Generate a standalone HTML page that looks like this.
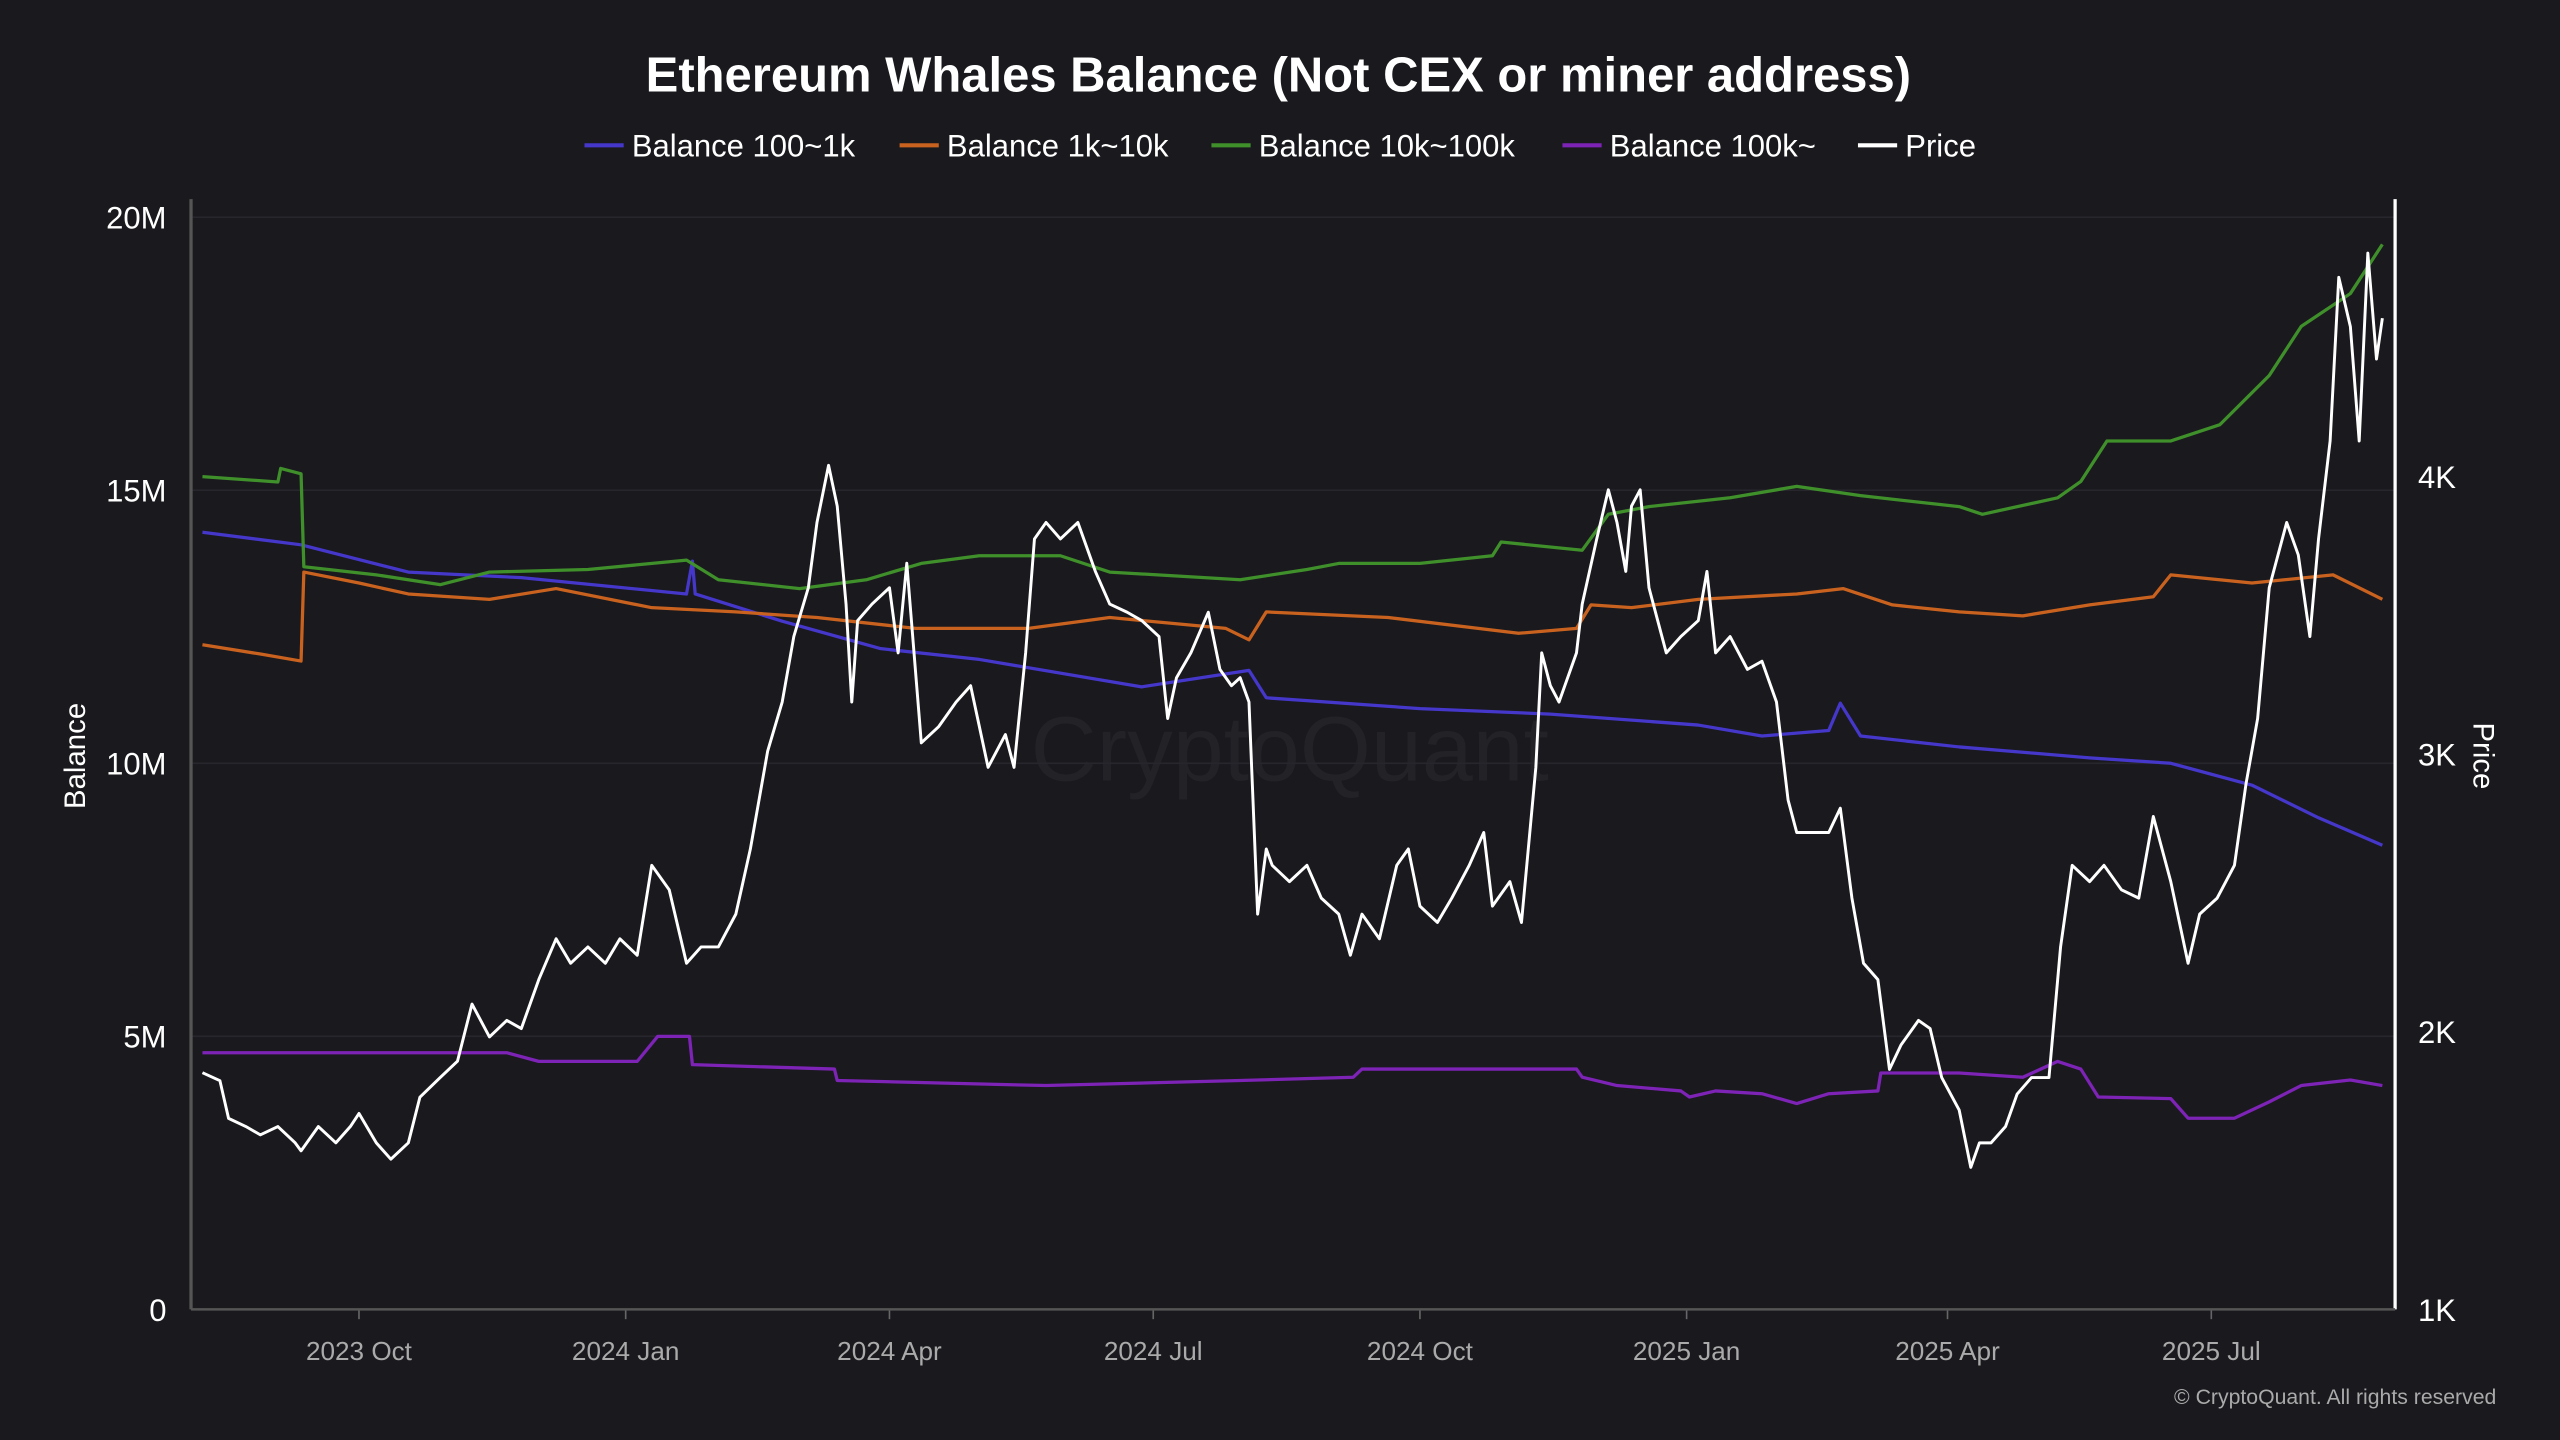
<!DOCTYPE html>
<html><head><meta charset="utf-8"><style>
html,body{margin:0;padding:0;background:#19191e;}
svg{display:block;font-family:"Liberation Sans",sans-serif;}
</style></head><body>
<svg id="chart" width="2560" height="1440" viewBox="0 0 1568 882" xmlns="http://www.w3.org/2000/svg">
<rect x="0" y="0" width="1568" height="882" fill="#19191e"/>
<text x="783" y="56" text-anchor="middle" font-size="30" font-weight="bold" fill="#fff">Ethereum Whales Balance (Not CEX or miner address)</text>
<g id="legend" font-size="19" fill="#fff"></g>
<text x="790" y="478" text-anchor="middle" font-size="56" fill="#222227">CryptoQuant</text>
<g id="grid"></g><g id="axes"></g><g id="series"></g>
<text transform="translate(52,463) rotate(-90)" text-anchor="middle" font-size="18" fill="#fff">Balance</text>
<text transform="translate(1515,463) rotate(90)" text-anchor="middle" font-size="18" fill="#fff">Price</text>
<text x="1529" y="860" text-anchor="end" font-size="13" fill="#aaa">© CryptoQuant. All rights reserved</text>
</svg>
<script>
const blueDays=[0,34,71,110,167,169,170,200,234,268,324,361,367,420,465,516,538,561,565,572,606,651,679,707,730,752];
const blueVals=[14.23,14.0,13.5,13.4,13.1,13.7,13.1,12.6,12.1,11.9,11.4,11.7,11.2,11.0,10.9,10.7,10.5,10.6,11.1,10.5,10.3,10.1,10.0,9.6,9.0,8.5];
const orangeDays=[0,20,34,35,54,71,99,122,155,184,212,246,285,313,353,361,367,409,454,474,479,493,516,550,566,583,606,628,651,673,679,707,735,752];
const orangeVals=[12.17,12.0,11.87,13.5,13.3,13.1,13.0,13.2,12.85,12.77,12.67,12.47,12.47,12.67,12.47,12.26,12.77,12.67,12.38,12.47,12.9,12.85,13.0,13.1,13.2,12.9,12.77,12.7,12.9,13.05,13.45,13.3,13.45,13.0];
const greenDays=[0,26,27,34,35,60,82,99,133,167,178,206,229,248,268,296,313,358,381,392,420,445,448,476,485,499,527,550,572,606,614,640,648,657,679,696,713,724,741,752];
const greenVals=[15.25,15.15,15.4,15.3,13.6,13.45,13.27,13.5,13.55,13.72,13.36,13.2,13.36,13.66,13.8,13.8,13.5,13.36,13.55,13.66,13.66,13.8,14.05,13.9,14.56,14.7,14.86,15.07,14.9,14.7,14.56,14.86,15.16,15.9,15.9,16.2,17.1,18.0,18.6,19.5];
const purpleDays=[0,105,116,150,157,168,169,218,219,291,358,397,400,474,476,488,510,513,522,538,550,561,578,579,606,628,640,648,654,679,685,701,713,724,741,752];
const purpleVals=[4.7,4.7,4.54,4.54,5.0,5.0,4.48,4.4,4.19,4.1,4.19,4.25,4.4,4.4,4.25,4.1,4.0,3.89,4.0,3.95,3.77,3.95,4.0,4.33,4.33,4.25,4.54,4.4,3.89,3.86,3.5,3.5,3.8,4.1,4.2,4.1];
const priceDays=[0,6,9,15,20,26,32,34,40,46,51,54,60,65,71,75,82,88,93,99,105,110,116,122,127,133,139,144,150,155,161,167,172,178,184,189,195,200,204,209,212,216,219,222,224,226,231,237,240,243,248,254,260,265,271,277,280,284,287,291,296,302,308,313,319,324,330,333,336,341,347,351,355,358,361,364,367,369,375,381,386,392,396,400,406,412,416,420,426,431,437,442,445,451,455,460,462,465,468,474,476,481,485,488,491,493,496,499,505,510,516,519,522,527,533,538,543,547,550,555,561,565,569,573,578,582,586,592,596,600,606,610,613,617,622,626,631,637,641,645,651,656,662,668,673,679,685,689,695,701,705,709,713,719,723,727,730,734,737,741,744,747,750,752];
const priceVals=[1853,1824,1688,1659,1629,1659,1600,1571,1659,1600,1659,1706,1600,1541,1600,1765,1835,1894,2100,1982,2041,2012,2188,2335,2247,2306,2247,2335,2276,2600,2512,2247,2306,2306,2424,2659,3012,3188,3424,3600,3835,4041,3894,3541,3188,3482,3541,3600,3365,3688,3041,3100,3188,3247,2953,3071,2953,3365,3776,3835,3776,3835,3659,3541,3512,3482,3424,3129,3276,3365,3512,3306,3247,3276,3188,2424,2659,2600,2541,2600,2482,2424,2276,2424,2335,2600,2659,2453,2394,2482,2600,2718,2453,2541,2394,2953,3365,3247,3188,3365,3541,3776,3953,3835,3659,3894,3953,3600,3365,3424,3482,3659,3365,3424,3306,3335,3188,2835,2718,2718,2718,2806,2482,2247,2188,1865,1953,2041,2012,1835,1718,1512,1600,1600,1659,1776,1835,1835,2306,2600,2541,2600,2512,2482,2776,2541,2247,2424,2482,2600,2894,3129,3600,3835,3718,3424,3776,4129,4718,4541,4129,4806,4424,4571];
const leftTicks=[0,5,10,15,20];
const leftTickLabels=["0","5M","10M","15M","20M"];
const rightTicks=[1000,2000,3000,4000];
const rightTickLabels=["1K","2K","3K","4K"];
const xTickDays=[54,146,237,328,420,512,602,693];
const xTickLabels=["2023 Oct","2024 Jan","2024 Apr","2024 Jul","2024 Oct","2025 Jan","2025 Apr","2025 Jul"];
const legendLabels=["Balance 100~1k","Balance 1k~10k","Balance 10k~100k","Balance 100k~","Price"];
const legendColors=["#4537c9","#c9621f","#3f8f2b","#7d23b5","#ffffff"];
const legendX=[360,553,744,959,1140];

const NS="http://www.w3.org/2000/svg";
const X=d=>124+d*1.7755;
const YL=v=>802-v*33.45;
const YR=p=>802-(p-1000)*0.17;
function mk(tag,attrs,parent){const e=document.createElementNS(NS,tag);for(const k in attrs)e.setAttribute(k,attrs[k]);parent.appendChild(e);return e;}
const grid=document.getElementById('grid'),axes=document.getElementById('axes'),ser=document.getElementById('series'),leg=document.getElementById('legend');
leftTicks.forEach((v,i)=>{
  if(v>0){const g=mk('line',{x1:117,x2:1467,y1:YL(v),y2:YL(v),stroke:'#26262c','stroke-width':1},grid);
  
  }
  const t=mk('text',{x:102,y:YL(v)+7,'text-anchor':'end','font-size':19,fill:'#fff'},axes);t.textContent=leftTickLabels[i];
  
  
});
rightTicks.forEach((v,i)=>{
  const t=mk('text',{x:1481,y:YR(v)+7,'font-size':19,fill:'#fff'},axes);t.textContent=rightTickLabels[i];
  
  
});
xTickDays.forEach((d,i)=>{
  const l=mk('line',{x1:X(d),x2:X(d),y1:802,y2:808,stroke:'#666'},axes);
  
  
  const t=mk('text',{x:X(d),y:833,'text-anchor':'middle','font-size':16,fill:'#aaa'},axes);t.textContent=xTickLabels[i];
  
  
});
let a=mk('line',{x1:117,x2:117,y1:122,y2:802,stroke:'#555','stroke-width':2},axes);


a=mk('line',{x1:1467,x2:1467,y1:122,y2:802,stroke:'#fff','stroke-width':2},axes);


a=mk('line',{x1:117,x2:1467,y1:802,y2:802,stroke:'#555','stroke-width':1.5},axes);


function line(days,vals,yf,color,name,w){
  const pts=days.map((d,i)=>X(d).toFixed(1)+','+yf(vals[i]).toFixed(1)).join(' ');
  const p=mk('polyline',{points:pts,fill:'none',stroke:color,'stroke-width':w,'stroke-linejoin':'round'},ser);
  
  
}
line(purpleDays,purpleVals,YL,legendColors[3],'series-balance-100k',2);
line(blueDays,blueVals,YL,legendColors[0],'series-balance-100-1k',2);
line(orangeDays,orangeVals,YL,legendColors[1],'series-balance-1k-10k',2);
line(greenDays,greenVals,YL,legendColors[2],'series-balance-10k-100k',2);
line(priceDays,priceVals,YR,legendColors[4],'series-price',1.8);
legendLabels.forEach((lab,i)=>{
  const g=mk('g',{},leg);
  
  
  mk('line',{x1:legendX[i]-2,x2:legendX[i]+22,y1:89,y2:89,stroke:legendColors[i],'stroke-width':2.5},g);
  const t=mk('text',{x:legendX[i]+27,y:96,'font-size':19,fill:'#fff'},g);t.textContent=lab;
});
</script>
</body></html>
